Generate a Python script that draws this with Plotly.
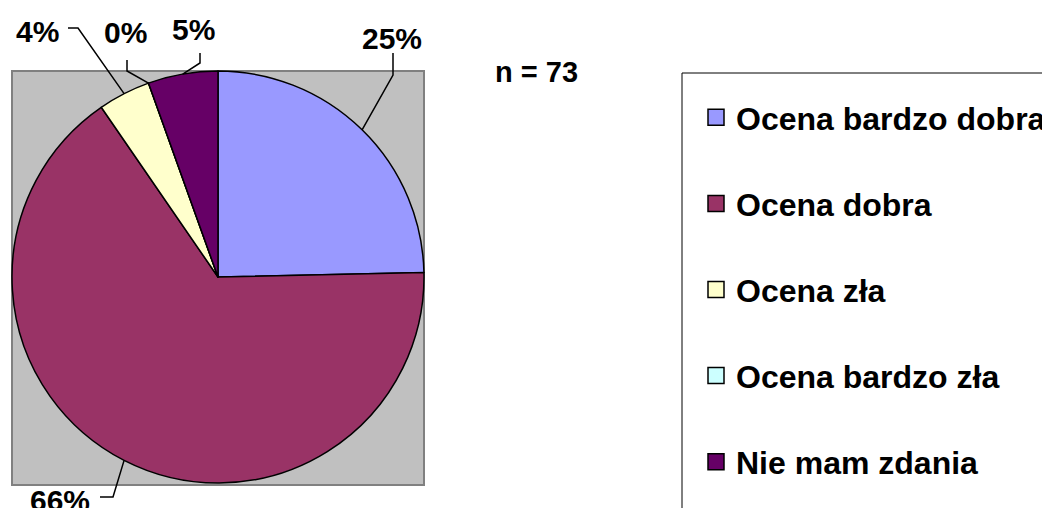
import math
import plotly.graph_objects as go

# ---- data ----
categories = ["Ocena bardzo dobra", "Ocena dobra", "Ocena zła", "Ocena bardzo zła", "Nie mam zdania"]
counts = [18, 48, 3, 0, 4]
colors = ["#9999FF", "#993366", "#FFFFCC", "#CCFFFF", "#660066"]
n_label = "n = 73"

# ---- layout helpers (window pixel -> paper; page body has an 8px margin) ----
W, H = 1050, 508
OFF = 8
def px(x):
    return (x - OFF) / W
def py(y):
    return 1 - (y - OFF) / H

PIE_L, PIE_R, PIE_T, PIE_B = 12, 424, 71, 483
cx = (PIE_L + PIE_R) / 2
cy = (PIE_T + PIE_B) / 2
r = min(PIE_R - PIE_L, PIE_B - PIE_T) / 2

# label placement (pixels): text centre, leader start near text, elbow
label_pos = [(392, 38), (60, 500), (37, 31), (125, 32), (193, 29)]
leader_start = [(393, 53), (100, 497), (68, 28), (127, 60), (200, 53)]
leader_elbow = [(393, 75), (113, 497), (78, 28), (127, 71), (200, 63)]

FONT = "Liberation Sans, Arial, sans-serif"

fig = go.Figure()

fig.add_trace(go.Pie(
    values=counts, labels=categories, sort=False, direction="clockwise", rotation=0,
    marker=dict(colors=colors, line=dict(color="black", width=1.5)),
    textinfo="none", showlegend=False, hoverinfo="label+percent",
    domain=dict(x=[px(PIE_L), px(PIE_R)], y=[py(PIE_B), py(PIE_T)]),
))

for cat, col in zip(categories, colors):
    fig.add_trace(go.Scatter(
        x=[None], y=[None], mode="markers", name=cat, legendgroup=cat,
        marker=dict(symbol="square", size=16, color=col, line=dict(color="black", width=1.5)),
    ))

shapes = [
    dict(type="rect", xref="paper", yref="paper", layer="below",
         x0=px(12), x1=px(424), y0=py(485), y1=py(71),
         fillcolor="#C0C0C0", line=dict(color="#808080", width=2)),
    dict(type="rect", xref="paper", yref="paper",
         x0=px(682), x1=px(1070), y0=py(530), y1=py(73),
         fillcolor="rgba(0,0,0,0)", line=dict(color="black", width=1)),
]
annotations = []
total = sum(counts)
cum = 0
for i, v in enumerate(counts):
    theta = 2 * math.pi * (cum + v / 2) / total
    cum += v
    ex = cx + r * math.sin(theta)
    ey = cy - r * math.cos(theta)
    (sx, sy), (bx, by) = leader_start[i], leader_elbow[i]
    shapes.append(dict(
        type="path", xref="paper", yref="paper",
        path=f"M {px(sx)},{py(sy)} L {px(bx)},{py(by)} L {px(ex)},{py(ey)}",
        line=dict(color="black", width=1.5),
    ))
    tx, ty = label_pos[i]
    annotations.append(dict(
        x=px(tx), y=py(ty), xref="paper", yref="paper", showarrow=False,
        text=f"{round(100 * v / total)}%", xanchor="center", yanchor="middle",
        font=dict(family=FONT, size=30, color="black", weight="bold"),
    ))

annotations.append(dict(
    x=px(493), y=py(72), xref="paper", yref="paper", showarrow=False,
    text=n_label, xanchor="left", yanchor="middle",
    font=dict(family=FONT, size=29, color="black", weight="bold"),
))

fig.update_layout(
    width=W, height=H, margin=dict(l=0, r=0, t=0, b=0, autoexpand=False),
    paper_bgcolor="white", plot_bgcolor="rgba(0,0,0,0)",
    xaxis=dict(visible=False), yaxis=dict(visible=False),
    shapes=shapes, annotations=annotations,
    legend=dict(x=px(696), y=py(90), xanchor="left", yanchor="top",
                font=dict(family=FONT, size=32, color="black", weight="bold"),
                tracegroupgap=41.5, bgcolor="rgba(0,0,0,0)", borderwidth=0,
                itemclick=False, itemdoubleclick=False),
    showlegend=True,
)

fig.write_html("out.html")
